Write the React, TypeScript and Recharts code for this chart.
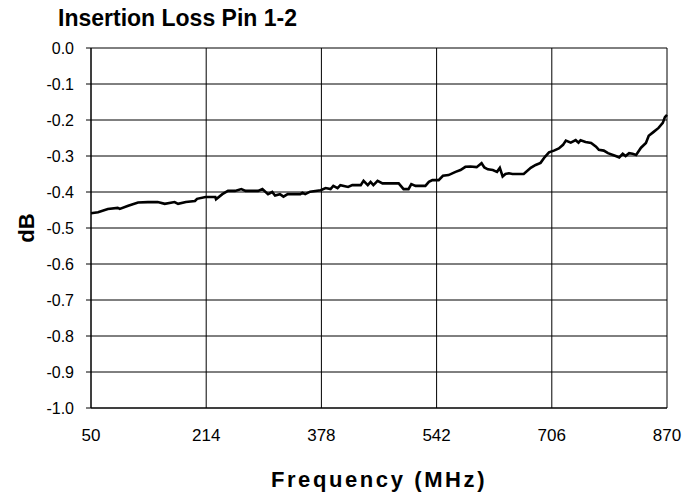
import { LineChart, Line, XAxis, YAxis, CartesianGrid } from 'recharts';

// frequency points (MHz)
const freqs = [
  50, 60, 74, 88, 91, 103, 117, 131, 145, 155, 169, 174, 185, 198, 201, 213, 227, 228,
  237, 245, 255, 264, 270, 288, 294, 302, 308, 312, 319, 324, 330, 348, 351, 355, 362,
  377, 384, 391, 395, 401, 405, 416, 422, 434, 438, 444, 448, 452, 458, 465, 488, 495,
  502, 506, 512, 526, 531, 536, 545, 551, 559, 569, 576, 583, 590, 599, 606, 610, 615,
  622, 628, 632, 636, 640, 645, 650, 666, 676, 683, 690, 696, 702, 709, 716, 722, 726,
  733, 740, 744, 747, 754, 762, 769, 773, 780, 786, 793, 797, 802, 807, 811, 816, 821,
  826, 833, 840, 844, 851, 858, 864, 867, 870,
];

// insertion loss (dB)
const loss = [
  -0.459, -0.456, -0.447, -0.444, -0.447, -0.438, -0.429, -0.428, -0.428, -0.433, -0.428,
  -0.433, -0.428, -0.425, -0.419, -0.414, -0.414, -0.42, -0.406, -0.397, -0.397, -0.392,
  -0.397, -0.397, -0.392, -0.406, -0.4, -0.41, -0.406, -0.413, -0.406, -0.406, -0.402,
  -0.406, -0.399, -0.395, -0.389, -0.392, -0.383, -0.389, -0.381, -0.386, -0.381, -0.381,
  -0.369, -0.381, -0.372, -0.381, -0.369, -0.376, -0.376, -0.392, -0.392, -0.378, -0.383,
  -0.383, -0.372, -0.367, -0.367, -0.355, -0.353, -0.344, -0.339, -0.33, -0.329, -0.331,
  -0.32, -0.332, -0.337, -0.339, -0.344, -0.333, -0.357, -0.35, -0.348, -0.35, -0.35,
  -0.333, -0.325, -0.319, -0.303, -0.29, -0.285, -0.279, -0.269, -0.257, -0.263, -0.256,
  -0.263, -0.256, -0.261, -0.264, -0.274, -0.283, -0.285, -0.292, -0.297, -0.3, -0.304,
  -0.294, -0.3, -0.292, -0.294, -0.297, -0.277, -0.264, -0.244, -0.233, -0.222, -0.208,
  -0.192, -0.186,
];

const xTicks = [50, 214, 378, 542, 706, 870];
const yTicks = [0, -0.1, -0.2, -0.3, -0.4, -0.5, -0.6, -0.7, -0.8, -0.9, -1.0];

const FONT = '"Liberation Sans", Arial, Helvetica, sans-serif';

const data = freqs.map((f, i) => ({ freq: f, loss: loss[i] }));

export default function App() {
  return (
    <div style={{ position: 'absolute', left: 0, top: 0, width: 683, height: 497, background: '#fff', fontFamily: FONT }}>
      <div
        style={{
          position: 'absolute',
          left: 58,
          top: 4,
          fontSize: 23,
          fontWeight: 'bold',
          lineHeight: '28px',
          color: '#000',
          whiteSpace: 'nowrap',
        }}
      >
        Insertion Loss Pin 1-2
      </div>
      <LineChart width={683} height={497} data={data} margin={{ top: 48, right: 16, bottom: 49, left: 0 }}>
        <CartesianGrid stroke="#000" strokeWidth={1} />
        <XAxis
          dataKey="freq"
          type="number"
          domain={[50, 870]}
          ticks={xTicks}
          height={40}
          tickSize={0}
          tickMargin={21}
          axisLine={{ stroke: '#000' }}
          tick={{ fill: '#000', fontSize: 17, fontFamily: FONT }}
          label={{
            content: () => (
              <text
                x={379}
                y={487}
                textAnchor="middle"
                fontFamily={FONT}
                fontSize={22}
                fontWeight="bold"
                letterSpacing={2.6}
                fill="#000"
              >
                Frequency (MHz)
              </text>
            ),
          }}
        />
        <YAxis
          type="number"
          domain={[-1, 0]}
          ticks={yTicks}
          width={91}
          tickSize={5}
          tickMargin={12}
          interval={0}
          axisLine={{ stroke: '#000' }}
          tickLine={{ stroke: '#000' }}
          tickFormatter={(v: number) => v.toFixed(1)}
          tick={{ fill: '#000', fontSize: 16, fontFamily: FONT }}
          label={{
            content: () => (
              <text
                x={34}
                y={228}
                textAnchor="middle"
                fontFamily={FONT}
                fontSize={22}
                fontWeight="bold"
                fill="#000"
                transform="rotate(-90 34 228)"
              >
                dB
              </text>
            ),
          }}
        />
        <Line
          type="linear"
          dataKey="loss"
          stroke="#000"
          strokeWidth={2.6}
          dot={false}
          isAnimationActive={false}
        />
      </LineChart>
    </div>
  );
}
